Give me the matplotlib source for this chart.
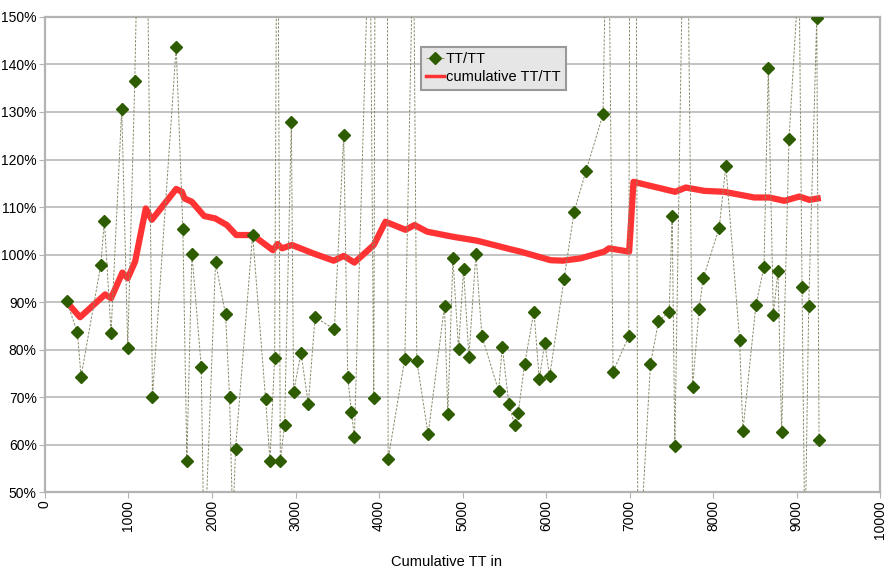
import matplotlib
matplotlib.use("Agg")
import matplotlib.pyplot as plt
from matplotlib.ticker import FuncFormatter, MultipleLocator

plt.rcParams['font.family'] = ['Liberation Sans', 'DejaVu Sans']

# TT/TT per segment (percent), values beyond 50..150 run off the chart
seg_x = [260, 388, 432, 668, 711, 791, 919, 991, 1075, 1183, 1287, 1571, 1651,
         1699, 1759, 1871, 1906, 2042, 2162, 2210, 2248, 2282, 2486, 2642, 2694,
         2750, 2783, 2818, 2869, 2950, 2977, 3066, 3153, 3234, 3465, 3577, 3625,
         3669, 3705, 3890, 3937, 3990, 4080, 4109, 4309, 4412, 4452, 4588, 4784,
         4824, 4884, 4952, 5012, 5076, 5160, 5232, 5432, 5476, 5555, 5624, 5667,
         5743, 5855, 5919, 5983, 6043, 6215, 6335, 6478, 6682, 6740, 6802, 6990,
         7040, 7100, 7250, 7346, 7474, 7510, 7542, 7674, 7754, 7833, 7881, 8073,
         8153, 8317, 8357, 8513, 8609, 8661, 8721, 8777, 8821, 8909, 9030, 9065,
         9100, 9145, 9241, 9269]
seg_ratio = [90.2, 83.6, 74.3, 97.8, 107.1, 83.5, 130.7, 80.4, 136.5, 230, 70.1,
             143.7, 105.3, 56.5, 100.2, 76.4, 35, 98.4, 87.4, 70.1, 43, 59.1,
             104.2, 69.5, 56.5, 78.3, 200, 56.5, 64.2, 127.8, 71.1, 79.3, 68.5,
             86.8, 84.3, 125.2, 74.2, 66.8, 61.6, 175, 69.7, 400, 400, 56.9, 78.1,
             170, 77.6, 62.2, 89.2, 66.5, 99.2, 80.1, 96.9, 78.4, 100.2, 82.8,
             71.3, 80.6, 68.5, 64.1, 66.7, 76.9, 88.0, 73.7, 81.4, 74.4, 94.8,
             108.9, 117.6, 129.5, 190, 75.3, 82.8, 440, 30, 76.9, 85.9, 88.0,
             108.1, 59.7, 205, 72.1, 88.5, 95.0, 105.6, 118.7, 82.1, 62.9, 89.4,
             97.3, 139.2, 87.3, 96.5, 62.6, 124.3, 160, 93.2, 37, 89.1, 149.7, 61.0]

# cumulative TT/TT (percent)
cum_x = [260, 420, 720, 791, 927, 991, 1079, 1207, 1279, 1571, 1639, 1671, 1759,
         1906, 2038, 2179, 2290, 2486, 2730, 2785, 2838, 2958, 3217, 3457, 3577,
         3705, 3937, 4077, 4317, 4425, 4577, 4896, 5176, 5576, 5695, 6055, 6200,
         6415, 6695, 6755, 6995, 7047, 7546, 7674, 7894, 8133, 8493, 8673, 8853,
         9033, 9153, 9253]
cum_ratio = [90.0, 86.8, 91.6, 90.8, 96.2, 95.0, 98.5, 109.7, 107.3, 113.8, 113.2,
             111.8, 111.1, 108.1, 107.6, 106.2, 104.1, 104.1, 100.9, 102.2, 101.3,
             102.0, 100.2, 98.7, 99.7, 98.3, 102.0, 106.9, 105.2, 106.2, 104.8,
             103.7, 102.9, 101.1, 100.6, 98.8, 98.7, 99.2, 100.6, 101.3, 100.6,
             115.3, 113.2, 114.1, 113.4, 113.2, 112.0, 112.0, 111.3, 112.2, 111.5,
             111.8]

fig = plt.figure(figsize=(8.89, 5.76), dpi=100)
ax = fig.add_axes([0.0506, 0.1458, 0.9394, 0.8247])

grey = "#b3b3b3"
ax.plot(seg_x, seg_ratio, color="#8a8a6a", lw=0.7, ls=(0, (2.5, 1.5)),
        marker="D", markersize=6, markerfacecolor="#2e5c00",
        markeredgecolor="#2e5c00", label="TT/TT", zorder=3)
ax.plot(cum_x, cum_ratio, color="#ff3333", lw=4.5, solid_joinstyle="round",
        label="cumulative TT/TT", zorder=2)

ax.set_xlim(0, 10000)
ax.set_ylim(50, 150)
ax.xaxis.set_major_locator(MultipleLocator(1000))
ax.yaxis.set_major_locator(MultipleLocator(10))
ax.yaxis.set_major_formatter(FuncFormatter(lambda v, p: f"{v:.0f}%"))
ax.grid(axis="y", color=grey, lw=1.1)
ax.set_axisbelow(True)
for s in ax.spines.values():
    s.set_color(grey)
    s.set_linewidth(1.6)
ax.tick_params(axis="x", labelrotation=90, length=4, color=grey, labelsize=10,
               pad=2)
ax.tick_params(axis="y", length=4, color=grey, labelsize=10, pad=2)

fig.text(0.502, 0.024, "Cumulative TT in", ha="center", va="center", fontsize=10.5)

leg = ax.legend(loc="upper left", bbox_to_anchor=(0.4505, 0.937), fontsize=10.5,
                frameon=True, fancybox=False, borderpad=0.35, labelspacing=0.3,
                handlelength=1.2, handletextpad=0.15, borderaxespad=0)
leg.get_frame().set_facecolor("#e6e6e6")
leg.get_frame().set_edgecolor("#999999")
leg.get_frame().set_linewidth(1.5)
leg.get_frame().set_alpha(1)
leg.legend_handles[1].set_linewidth(2.5)

fig.savefig("out.png", dpi=100)
